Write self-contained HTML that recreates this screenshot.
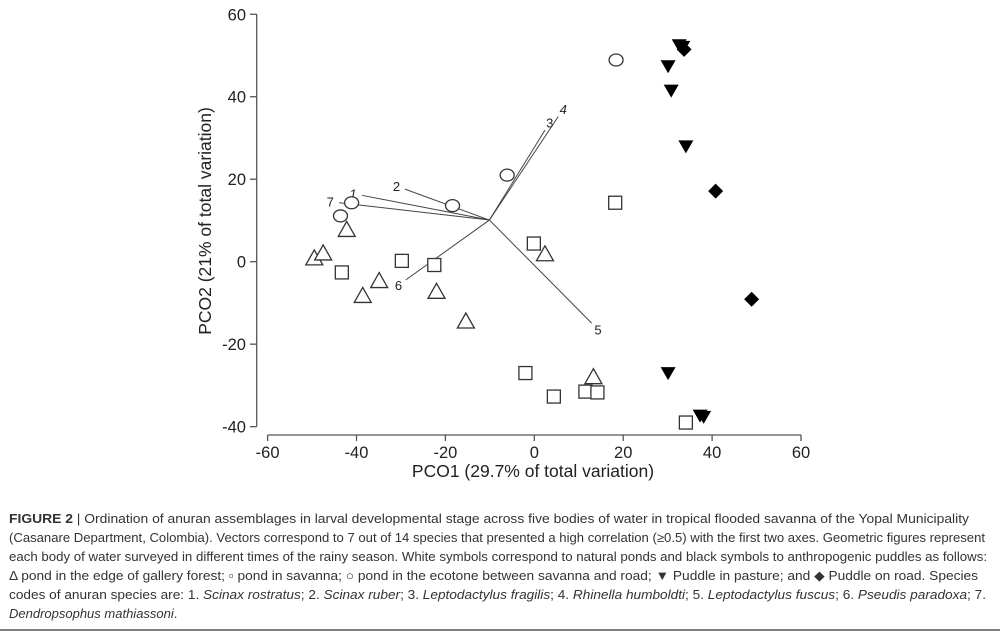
<!DOCTYPE html>
<html><head><meta charset="utf-8"><style>
body{margin:0;background:#fff;}
svg{display:block;font-family:"Liberation Sans",Arial,sans-serif;}
</style></head><body>
<svg id="chart" width="1000" height="631" viewBox="0 0 1000 631">
<g id="axes"></g>
<g id="vectors"></g>
<g id="points"></g>
<text x="533" y="477" font-size="17.5" text-anchor="middle" fill="#222">PCO1 (29.7% of total variation)</text>
<text transform="translate(211,221) rotate(-90)" font-size="17.5" text-anchor="middle" fill="#222">PCO2 (21% of total variation)</text>
<g font-size="13" fill="#333">
<text x="9" y="523" textLength="960" lengthAdjust="spacingAndGlyphs"><tspan font-weight="bold">FIGURE 2</tspan> | Ordination of anuran assemblages in larval developmental stage across five bodies of water in tropical flooded savanna of the Yopal Municipality</text>
<text x="9" y="542" textLength="976" lengthAdjust="spacingAndGlyphs">(Casanare Department, Colombia). Vectors correspond to 7 out of 14 species that presented a high correlation (≥0.5) with the first two axes. Geometric figures represent</text>
<text x="9" y="561" textLength="978" lengthAdjust="spacingAndGlyphs">each body of water surveyed in different times of the rainy season. White symbols correspond to natural ponds and black symbols to anthropogenic puddles as follows:</text>
<text x="9" y="580" textLength="969" lengthAdjust="spacingAndGlyphs">Δ pond in the edge of gallery forest; ▫ pond in savanna; ○ pond in the ecotone between savanna and road; ▼ Puddle in pasture; and ◆ Puddle on road. Species</text>
<text x="9" y="599" textLength="977" lengthAdjust="spacingAndGlyphs">codes of anuran species are: 1. <tspan font-style="italic">Scinax rostratus</tspan>; 2. <tspan font-style="italic">Scinax ruber</tspan>; 3. <tspan font-style="italic">Leptodactylus fragilis</tspan>; 4. <tspan font-style="italic">Rhinella humboldti</tspan>; 5. <tspan font-style="italic">Leptodactylus fuscus</tspan>; 6. <tspan font-style="italic">Pseudis paradoxa</tspan>; 7.</text>
<text x="9" y="618" font-style="italic">Dendropsophus mathiassoni<tspan font-style="normal">.</tspan></text>
</g>
<line x1="0" y1="630" x2="1000" y2="630" stroke="#555" stroke-width="1.5"/>
</svg>
<script>
const xTicks = [-60,-40,-20,0,20,40,60];
const yTicks = [-40,-20,0,20,40,60];
const triX = [-49.5,-47.5,-42.2,-34.9,-38.6,-22,-15.4,2.4,13.3];
const triY = [0.8,2,7.7,-4.7,-8.3,-7.3,-14.5,1.8,-28];
const sqX = [-43.3,-29.8,-22.5,-0.1,-2,4.4,11.5,14.2,18.2,34.1];
const sqY = [-2.6,0.2,-0.8,4.4,-27,-32.7,-31.5,-31.7,14.3,-39];
const circX = [-43.6,-41.1,-18.4,-6.1,18.4];
const circY = [11.1,14.3,13.6,21,48.9];
const dtriX = [32.6,33.4,30.1,30.8,34.1,30.1,37.3,38.1];
const dtriY = [52.6,52.2,47.5,41.6,28.1,-26.9,-37.2,-37.5];
const diaX = [33.7,40.8,48.9];
const diaY = [51.5,17.1,-9.1];
const vecOrigin = [-10.1,10.1];
const vecLabels = ["1","2","3","4","5","6","7"];
const vecX = [-38.8,-29.1,2.4,5.4,12.9,-28.9,-43.9];
const vecY = [16.1,17.6,31.9,35.2,-14.9,-4.4,14.3];

const NS="http://www.w3.org/2000/svg";
const sx = v => 534.3 + 4.445*v;
const sy = v => 261.7 - 4.124*v;
function mk(tag, attrs, parent){const e=document.createElementNS(NS,tag);for(const k in attrs)e.setAttribute(k,attrs[k]);parent.appendChild(e);return e;}
const axes=document.getElementById('axes'), vg=document.getElementById('vectors'), pg=document.getElementById('points');
const st={stroke:'#555','stroke-width':1.3,fill:'none'};
let a=mk('line',Object.assign({x1:sx(-60),x2:sx(60),y1:435,y2:435},st),axes);


a=mk('line',Object.assign({x1:256.7,x2:256.7,y1:sy(60),y2:sy(-40)},st),axes);


xTicks.forEach(t=>{
  const l=mk('line',Object.assign({x1:sx(t),x2:sx(t),y1:435,y2:441},st),axes);
  
  
  const tx=mk('text',{x:sx(t),y:458,'font-size':16.5,'text-anchor':'middle',fill:'#222'},axes);
  tx.textContent=t;
  
  
});
yTicks.forEach(t=>{
  const l=mk('line',Object.assign({x1:250,x2:256.7,y1:sy(t),y2:sy(t)},st),axes);
  
  
  const tx=mk('text',{x:246,y:sy(t)+6,'font-size':16.5,'text-anchor':'end',fill:'#222'},axes);
  tx.textContent=t;
  
  
});
vecLabels.forEach((lab,i)=>{
  const x2=sx(vecX[i]), y2=sy(vecY[i]), x1=sx(vecOrigin[0]), y1=sy(vecOrigin[1]);
  const l=mk('line',{x1:x1,y1:y1,x2:x2,y2:y2,stroke:'#444','stroke-width':1},vg);
  
  
  const dx=x2-x1, dy=y2-y1, d=Math.hypot(dx,dy);
  const tx=mk('text',{x:x2+dx/d*9,y:y2+dy/d*9+5,'font-size':13,'text-anchor':'middle',fill:'#222','font-style':(lab==='1'||lab==='4')?'italic':'normal'},vg);
  tx.textContent=lab;
  
  
});
const ost={fill:'#fff',stroke:'#333','stroke-width':1.3};
triX.forEach((v,i)=>{const x=sx(v),y=sy(triY[i]);
  const e=mk('polygon',Object.assign({points:`${x},${y-8.5} ${x-8.5},${y+6.5} ${x+8.5},${y+6.5}`},ost),pg);
  
  });
sqX.forEach((v,i)=>{const x=sx(v),y=sy(sqY[i]);
  const e=mk('rect',Object.assign({x:x-6.5,y:y-6.5,width:13,height:13},ost),pg);
  
  });
circX.forEach((v,i)=>{const x=sx(v),y=sy(circY[i]);
  const e=mk('ellipse',Object.assign({cx:x,cy:y,rx:7,ry:6},ost),pg);
  
  });
dtriX.forEach((v,i)=>{const x=sx(v),y=sy(dtriY[i]);
  const e=mk('polygon',{points:`${x-7.5},${y-5.5} ${x+7.5},${y-5.5} ${x},${y+7.5}`,fill:'#000'},pg);
  
  });
diaX.forEach((v,i)=>{const x=sx(v),y=sy(diaY[i]);
  const e=mk('polygon',{points:`${x},${y-7.5} ${x+7.5},${y} ${x},${y+7.5} ${x-7.5},${y}`,fill:'#000'},pg);
  
  });
</script>
</body></html>
